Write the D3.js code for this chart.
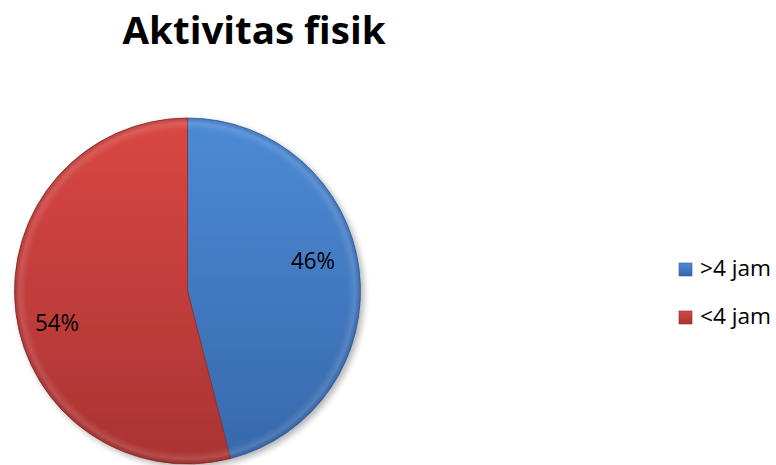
<!DOCTYPE html>
<html>
<head>
<meta charset="utf-8">
<script src="https://cdn.jsdelivr.net/npm/d3@7"></script>
<style>
  html, body { margin: 0; padding: 0; background: #fff; }
  svg { display: block; }
</style>
</head>
<body>
<svg id="chart" width="776" height="465"></svg>
<script>
// Physical activity share by daily duration
const categories = [">4 jam", "<4 jam"];
const values = [46, 54];
const labels = ["46%", "54%"];
const colors = [
  { top: "#4d8ad6", bottom: "#3768ab", edge: "#2f5d98" },
  { top: "#d94744", bottom: "#a93432", edge: "#8e2a28" }
];

const svg = d3.select("#chart");
const cx = 187.5, cy = 291, r = 173;

const defs = svg.append("defs");
colors.forEach((c, i) => {
  const g = defs.append("linearGradient")
    .attr("id", "grad" + i)
    .attr("gradientUnits", "userSpaceOnUse")
    .attr("x1", 0).attr("y1", -r).attr("x2", 0).attr("y2", r);
  g.append("stop").attr("offset", "0%").attr("stop-color", c.top);
  g.append("stop").attr("offset", "100%").attr("stop-color", c.bottom);

  const lg = defs.append("linearGradient")
    .attr("id", "lgrad" + i)
    .attr("x1", 0).attr("y1", 0).attr("x2", 0).attr("y2", 1);
  lg.append("stop").attr("offset", "0%").attr("stop-color", c.top);
  lg.append("stop").attr("offset", "100%").attr("stop-color", c.bottom);
});

// soft rim highlight for a bevelled look
const rim = defs.append("radialGradient")
  .attr("id", "rim")
  .attr("gradientUnits", "userSpaceOnUse")
  .attr("cx", 0).attr("cy", 0).attr("r", r);
rim.append("stop").attr("offset", "0%").attr("stop-color", "#fff").attr("stop-opacity", 0);
rim.append("stop").attr("offset", "93%").attr("stop-color", "#fff").attr("stop-opacity", 0);
rim.append("stop").attr("offset", "97%").attr("stop-color", "#fff").attr("stop-opacity", 0.12);
rim.append("stop").attr("offset", "100%").attr("stop-color", "#000").attr("stop-opacity", 0.12);

const shadow = defs.append("filter").attr("id", "shadow")
  .attr("x", "-20%").attr("y", "-20%").attr("width", "140%").attr("height", "140%");
shadow.append("feGaussianBlur").attr("in", "SourceAlpha").attr("stdDeviation", 3);
shadow.append("feOffset").attr("dx", 3).attr("dy", 3).attr("result", "b");
shadow.append("feComponentTransfer").append("feFuncA").attr("type", "linear").attr("slope", 0.3);
const merge = shadow.append("feMerge");
merge.append("feMergeNode");
merge.append("feMergeNode").attr("in", "SourceGraphic");

// Title
svg.append("text")
  .attr("x", 254).attr("y", 44)
  .attr("text-anchor", "middle")
  .attr("font-family", "'Open Sans', 'Liberation Sans', sans-serif")
  .attr("font-weight", "bold")
  .attr("font-size", 38)
  .attr("textLength", 263)
  .attr("lengthAdjust", "spacingAndGlyphs")
  .attr("fill", "#000")
  .text("Aktivitas fisik");

const pie = d3.pie().sort(null).value(d => d);
const arcs = pie(values);
const arc = d3.arc().innerRadius(0).outerRadius(r);

const g = svg.append("g").attr("transform", `translate(${cx},${cy})`);
const slices = g.append("g").attr("filter", "url(#shadow)");
slices.selectAll("path.slice")
  .data(arcs)
  .join("path")
  .attr("class", "slice")
  .attr("d", arc)
  .attr("fill", (d, i) => `url(#grad${i})`)
  .attr("stroke", (d, i) => colors[i].edge)
  .attr("stroke-width", 0.8);

g.selectAll("path.rim")
  .data(arcs)
  .join("path")
  .attr("class", "rim")
  .attr("d", arc)
  .attr("fill", "url(#rim)");

// Value labels, placed inside each slice
const labelPos = [[125.5, -22], [-130.5, 40]];
g.selectAll("text.val")
  .data(arcs)
  .join("text")
  .attr("class", "val")
  .attr("x", (d, i) => labelPos[i][0])
  .attr("y", (d, i) => labelPos[i][1])
  .attr("text-anchor", "middle")
  .attr("font-family", "'Open Sans', 'Liberation Sans', sans-serif")
  .attr("font-size", 23)
  .attr("textLength", 44)
  .attr("lengthAdjust", "spacingAndGlyphs")
  .attr("fill", "#000")
  .text((d, i) => labels[i]);

// Legend
const legend = svg.append("g").attr("transform", "translate(679,263)");
const items = legend.selectAll("g")
  .data(categories)
  .join("g")
  .attr("transform", (d, i) => `translate(0,${i * 48})`);
items.append("rect")
  .attr("width", 13).attr("height", 13)
  .attr("fill", (d, i) => `url(#lgrad${i})`)
  .attr("stroke", (d, i) => colors[i].edge)
  .attr("stroke-width", 0.6);
items.append("text")
  .attr("x", 21).attr("y", 13)
  .attr("font-family", "'Open Sans', 'Liberation Sans', sans-serif")
  .attr("font-size", 21)
  .attr("textLength", 71)
  .attr("lengthAdjust", "spacingAndGlyphs")
  .attr("fill", "#000")
  .text(d => d);
</script>
</body>
</html>
